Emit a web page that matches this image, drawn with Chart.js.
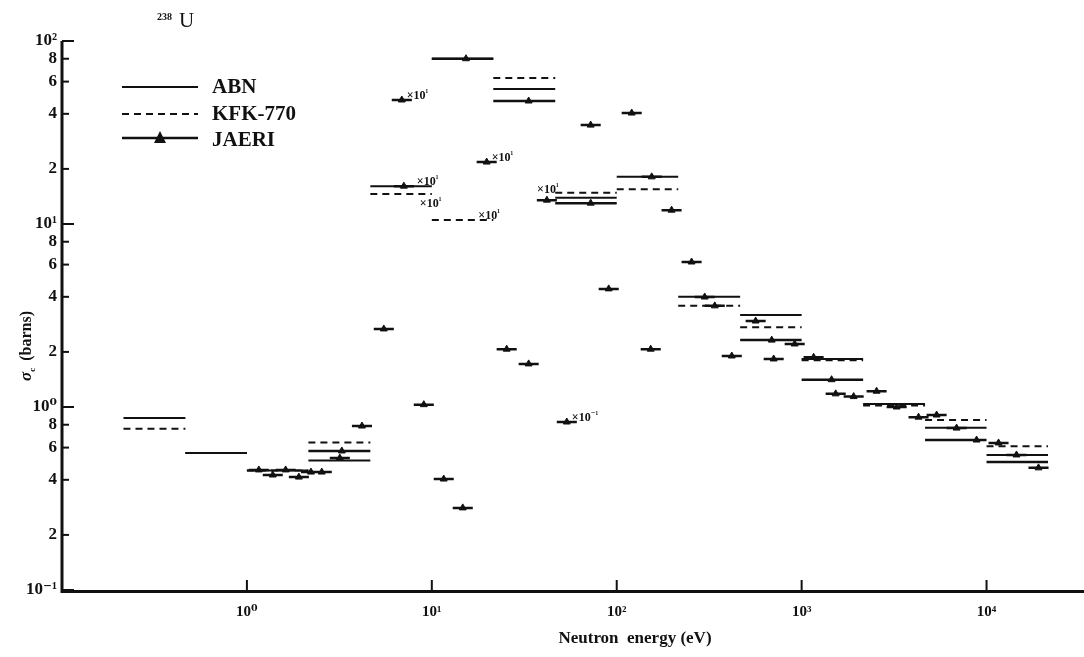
<!DOCTYPE html>
<html>
<head>
<meta charset="utf-8">
<script src="https://cdn.jsdelivr.net/npm/chart.js@4.4.1/dist/chart.umd.min.js"></script>
<style>
html, body { margin: 0; padding: 0; background: #fff; }
#wrap { width: 1084px; height: 657px; }
</style>
</head>
<body>
<div id="wrap"><canvas id="myChart" width="1084" height="657"></canvas></div>
<script>
// ABN 26-group energy boundaries (eV), low end of the chart
const groupBounds = [0.215, 0.465, 1.0, 2.15, 4.65, 10, 21.5, 46.5, 100, 215, 465, 1000, 2150, 4650, 10000, 21500];

// capture cross sections per group (barns)
const abnSigma = [0.87, 0.56, 0.45, 0.51, 16.1, 80, 54.7, 13.9, 18.1, 4.0, 3.18, 1.83, 1.04, 0.77, 0.547];
const kfkSigma = [0.76, 0.56, 0.45, 0.64, 14.6, 10.5, 62.8, 14.8, 15.5, 3.57, 2.73, 1.80, 1.02, 0.85, 0.61];
const jaeriGroupSigma = [null, null, null, 0.575, null, 80, 47.0, 13.0, null, null, 2.32, 1.41, null, 0.66, 0.50];
const jaeriGroupMark = [null, null, null, 3.26, null, 15.3, 33.4, 72.3, null, null, 689, 1452, null, 8834, null];

// JAERI fine-group values (centre energy, eV / barns)
const jaeriEnergy = [1.16, 1.38, 1.62, 1.91, 2.22, 2.54, 3.18, 4.19, 5.50, 6.88, 7.06, 9.05, 11.6, 14.7, 19.8, 25.4,
  33.4, 41.9, 53.7, 72.3, 90.5, 120.5, 152.7, 154.6, 198, 254, 299, 339, 419, 564, 706, 917, 1161, 1528, 1911, 2543,
  3265, 4288, 5370, 6886, 11610, 14520, 19100];
const jaeriSigma = [0.453, 0.425, 0.453, 0.414, 0.441, 0.441, 0.526, 0.787, 2.67, 47.6, 16.1, 1.03, 0.404, 0.281, 21.8, 2.07,
  1.72, 13.5, 0.828, 34.7, 4.42, 40.4, 2.07, 18.1, 11.9, 6.20, 3.99, 3.57, 1.90, 2.95, 1.83, 2.21, 1.87, 1.18, 1.14, 1.22,
  1.0, 0.880, 0.904, 0.767, 0.636, 0.547, 0.465];
const fineHalf = 1.133; // half of a 0.25 lethargy bin

// scale factors written beside some marks
const notes = [
  { text: '×10', sup: '¹', series: 'jaeri', index: 9, place: 'right' },
  { text: '×10', sup: '¹', series: 'abn', index: 4, place: 'endOn' },
  { text: '×10', sup: '¹', series: 'kfk', index: 4, place: 'endBelow' },
  { text: '×10', sup: '¹', series: 'kfk', index: 5, place: 'endOn' },
  { text: '×10', sup: '¹', series: 'jaeri', index: 14, place: 'right' },
  { text: '×10', sup: '¹', series: 'jaeri', index: 17, place: 'above' },
  { text: '×10', sup: '⁻¹', series: 'jaeri', index: 18, place: 'right' }
];

const xTicks = [1, 10, 100, 1000, 10000];
const xTickLabels = ['10⁰', '10¹', '10²', '10³', '10⁴'];
const yTicks = [0.1, 0.2, 0.4, 0.6, 0.8, 1, 2, 4, 6, 8, 10, 20, 40, 60, 80, 100];
const yTickLabels = ['10⁻¹', '2', '4', '6', '8', '10⁰', '2', '4', '6', '8', '10¹', '2', '4', '6', '8', '10²'];

const INK = '#111';
const SERIF = '"Liberation Serif", "DejaVu Serif", serif';

function stepPoints(vals) {
  const pts = [];
  vals.forEach((v, i) => {
    if (v == null) return;
    pts.push({ x: groupBounds[i], y: v }, { x: groupBounds[i + 1], y: v }, { x: groupBounds[i + 1], y: null });
  });
  return pts;
}

const finePoints = [];
jaeriEnergy.forEach((e, i) => {
  finePoints.push({ x: e / fineHalf, y: jaeriSigma[i] }, { x: e * fineHalf, y: jaeriSigma[i] }, { x: e * fineHalf, y: null });
});

const markPoints = jaeriEnergy.map((e, i) => ({ x: e, y: jaeriSigma[i] }));
jaeriGroupMark.forEach((e, i) => { if (e != null) markPoints.push({ x: e, y: jaeriGroupSigma[i] }); });

const lineBase = { showLine: true, pointRadius: 0, spanGaps: false, borderColor: INK, fill: false, tension: 0 };

// axes, tick marks, legend and titles
const decor = {
  id: 'decor',
  afterDraw(chart) {
    const { ctx, chartArea: a, scales: { x, y } } = chart;
    ctx.save();
    ctx.strokeStyle = INK;
    ctx.fillStyle = INK;
    ctx.lineCap = 'butt';

    // axis lines
    ctx.lineWidth = 3;
    ctx.beginPath();
    ctx.moveTo(a.left, a.top);
    ctx.lineTo(a.left, a.bottom + 1.5);
    ctx.lineTo(1084, a.bottom + 1.5);
    ctx.stroke();

    ctx.lineWidth = 2;
    yTicks.forEach((v, i) => {
      const py = y.getPixelForValue(v);
      const len = yTickLabels[i].startsWith('10') ? 12 : 7;
      ctx.beginPath();
      ctx.moveTo(a.left, py);
      ctx.lineTo(a.left + len, py);
      ctx.stroke();
    });
    xTicks.forEach(v => {
      const px = x.getPixelForValue(v);
      ctx.beginPath();
      ctx.moveTo(px, a.bottom);
      ctx.lineTo(px, a.bottom - 10);
      ctx.stroke();
    });

    // scale-factor notes
    notes.forEach(n => {
      let px, py;
      if (n.series === 'jaeri') {
        px = x.getPixelForValue(jaeriEnergy[n.index]);
        py = y.getPixelForValue(jaeriSigma[n.index]);
      } else {
        const vals = n.series === 'abn' ? abnSigma : kfkSigma;
        px = x.getPixelForValue(groupBounds[n.index + 1]);
        py = y.getPixelForValue(vals[n.index]);
      }
      ctx.font = 'bold 12px ' + SERIF;
      const w1 = ctx.measureText(n.text).width;
      ctx.font = 'bold 9px ' + SERIF;
      const w2 = ctx.measureText(n.sup).width;
      let tx, ty;
      if (n.place === 'right') { tx = px + 5; ty = py - 1; }
      else if (n.place === 'endOn') { tx = px - 15; ty = py - 1; }
      else if (n.place === 'endBelow') { tx = px - 12; ty = py + 13; }
      else { tx = px + 1 - (w1 + w2) / 2; ty = py - 7; }
      ctx.textAlign = 'left';
      ctx.textBaseline = 'alphabetic';
      ctx.font = 'bold 12px ' + SERIF;
      ctx.fillText(n.text, tx, ty);
      ctx.font = 'bold 9px ' + SERIF;
      ctx.fillText(n.sup, tx + w1, ty - 4);
    });

    // legend
    const lx0 = 122, lx1 = 198, tx = 212;
    ctx.font = 'bold 21px ' + SERIF;
    ctx.textBaseline = 'middle';
    ctx.lineWidth = 2;
    ctx.beginPath(); ctx.moveTo(lx0, 87); ctx.lineTo(lx1, 87); ctx.stroke();
    ctx.fillText('ABN', tx, 88);
    ctx.setLineDash([7, 5]);
    ctx.beginPath(); ctx.moveTo(lx0, 114); ctx.lineTo(lx1, 114); ctx.stroke();
    ctx.setLineDash([]);
    ctx.fillText('KFK-770', tx, 115);
    ctx.lineWidth = 2.5;
    ctx.beginPath(); ctx.moveTo(lx0, 138); ctx.lineTo(lx1, 138); ctx.stroke();
    ctx.beginPath(); ctx.moveTo(160, 131); ctx.lineTo(166, 143); ctx.lineTo(154, 143); ctx.closePath(); ctx.fill();
    ctx.fillText('JAERI', tx, 141);

    // isotope title
    ctx.textBaseline = 'alphabetic';
    ctx.font = 'bold 10px ' + SERIF;
    ctx.fillText('238', 157, 20);
    ctx.font = '21px ' + SERIF;
    ctx.fillText('U', 179, 27);

    // axis titles
    ctx.font = 'bold 17px ' + SERIF;
    ctx.textAlign = 'center';
    ctx.fillText('Neutron  energy (eV)', 635, 643);

    ctx.translate(31, 346);
    ctx.rotate(-Math.PI / 2);
    ctx.textAlign = 'left';
    ctx.font = 'italic bold 17px ' + SERIF;
    const s1 = ctx.measureText('σ').width;
    ctx.font = 'bold 16px ' + SERIF;
    const s3 = ctx.measureText(' (barns)').width;
    const total = s1 + 7 + s3;
    const cx = -total / 2;
    ctx.font = 'italic bold 17px ' + SERIF;
    ctx.fillText('σ', cx, 0);
    ctx.font = 'bold 9px ' + SERIF;
    ctx.fillText('c', cx + s1, 4);
    ctx.font = 'bold 16px ' + SERIF;
    ctx.fillText(' (barns)', cx + s1 + 7, 0);
    ctx.restore();
  }
};

const ctx = document.getElementById('myChart').getContext('2d');
const myChart = new Chart(ctx, {
  type: 'scatter',
  data: {
    datasets: [
      { ...lineBase, label: 'ABN', data: stepPoints(abnSigma), borderWidth: 2 },
      { ...lineBase, label: 'KFK-770', data: stepPoints(kfkSigma), borderWidth: 2, borderDash: [7, 5] },
      { ...lineBase, label: 'JAERI', data: stepPoints(jaeriGroupSigma), borderWidth: 2.5 },
      { ...lineBase, label: 'JAERI fine', data: finePoints, borderWidth: 2.5 },
      {
        label: 'JAERI marks', data: markPoints, showLine: false,
        pointStyle: 'triangle', pointRadius: 4, backgroundColor: INK, borderColor: INK, borderWidth: 1
      }
    ]
  },
  options: {
    responsive: false,
    animation: false,
    devicePixelRatio: 1,
    layout: { padding: { top: 41, right: 3, left: 0, bottom: 0 } },
    plugins: { legend: { display: false }, tooltip: { enabled: false } },
    scales: {
      x: {
        type: 'logarithmic',
        min: 0.1,
        max: 31623,
        grid: { display: false, drawTicks: false },
        border: { display: false },
        afterBuildTicks: s => { s.ticks = xTicks.map(v => ({ value: v })); },
        afterFit: s => { s.height = 67; },
        ticks: {
          autoSkip: false, maxRotation: 0, padding: 13, color: INK,
          font: { family: SERIF, size: 15, weight: 'bold' },
          callback: (v, i) => xTickLabels[i]
        }
      },
      y: {
        type: 'logarithmic',
        min: 0.1,
        max: 100,
        grid: { display: false, drawTicks: false },
        border: { display: false },
        afterBuildTicks: s => { s.ticks = yTicks.map(v => ({ value: v })); },
        afterFit: s => { s.width = 62; },
        ticks: {
          autoSkip: false, padding: 5, color: INK,
          font: { family: SERIF, size: 17, weight: 'bold' },
          callback: (v, i) => yTickLabels[i]
        }
      }
    }
  },
  plugins: [decor]
});
</script>
</body>
</html>
